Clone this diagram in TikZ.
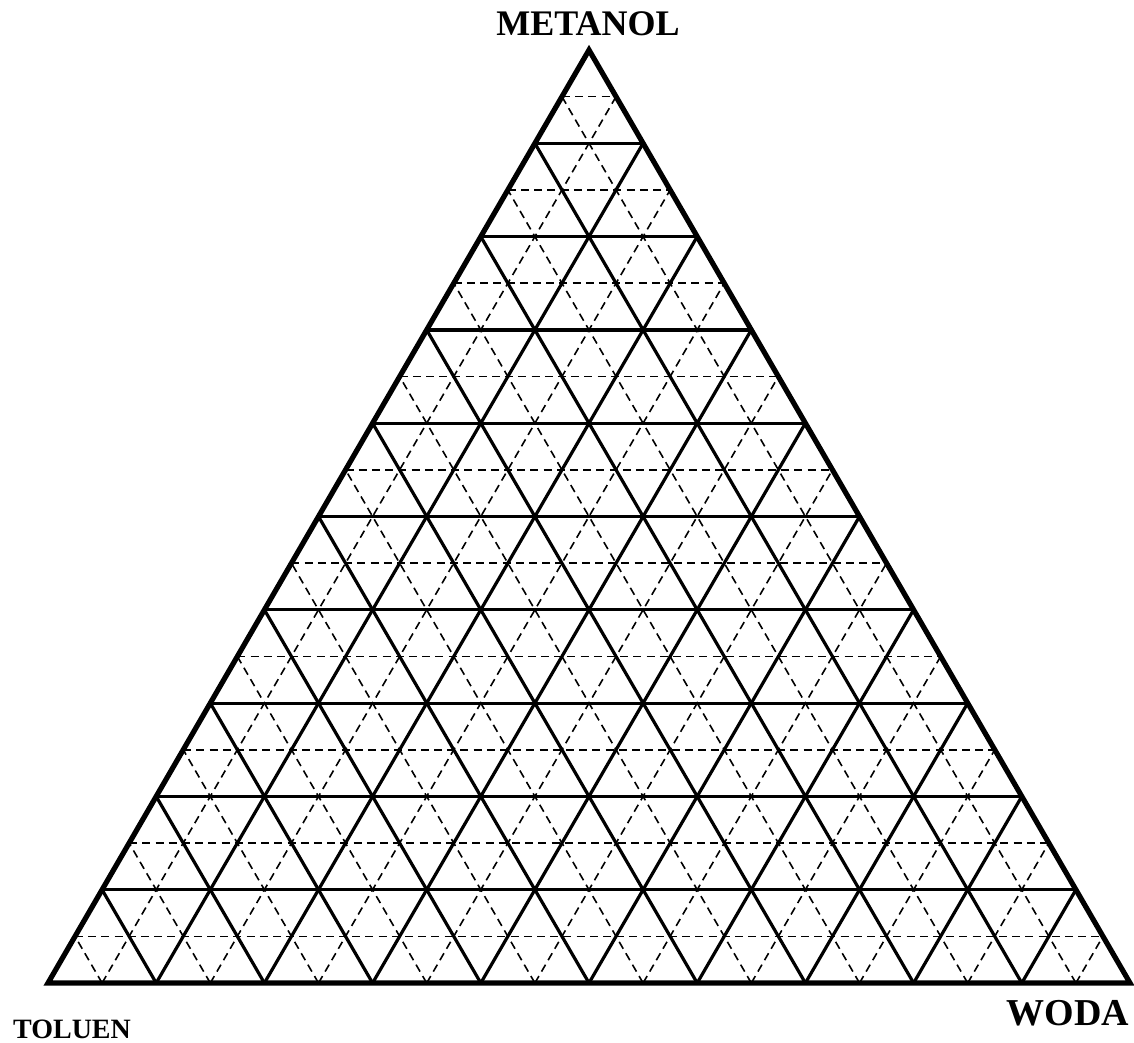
\documentclass[tikz,border=0pt]{standalone}
\usepackage{fontspec}
\setmainfont{Liberation Serif}
\usepackage{tikz}
\usetikzlibrary{calc}
\tikzset{
  frame line/.style={line width=2.6pt, line join=miter, draw=black},
  major line/.style={line width=1.6pt, draw=black},
  minor line/.style={line width=0.8pt, draw=black, dash pattern=on 4pt off 2.6pt},
  corner label/.style={font=\bfseries, inner sep=0pt, text=black}
}

\begin{document}
\begin{tikzpicture}[x=0.5pt, y=-0.5pt]
  \useasboundingbox (0,0) rectangle (1134,1043);
  \coordinate (tol) at (48,983);
  \coordinate (woda) at (1130,983);
  \coordinate (met) at (589,50);
  % dashed half-steps first, then solid tenths over them
  \foreach \k in {1,3,...,19} {
    \draw[minor line] ($(tol)!{\k/20}!(met)$) -- ($(woda)!{\k/20}!(met)$);
    \draw[minor line] ($(tol)!{\k/20}!(woda)$) -- ($(tol)!{\k/20}!(met)$);
    \draw[minor line] ($(tol)!{\k/20}!(woda)$) -- ($(met)!{\k/20}!(woda)$);
  }
  \foreach \k in {2,4,...,18} {
    \draw[major line] ($(tol)!{\k/20}!(met)$) -- ($(woda)!{\k/20}!(met)$);
    \draw[major line] ($(tol)!{\k/20}!(woda)$) -- ($(tol)!{\k/20}!(met)$);
    \draw[major line] ($(tol)!{\k/20}!(woda)$) -- ($(met)!{\k/20}!(woda)$);
  }
  \draw[frame line] (tol) -- (woda) -- (met) -- cycle;
  \node[corner label, font=\bfseries\fontsize{18}{20}\selectfont] (metlabel) at (588,24) {METANOL};
  \node[corner label, font=\bfseries\fontsize{14}{16}\selectfont] (tollabel) at (72,1029) {TOLUEN};
  \node[corner label, font=\bfseries\fontsize{19}{21}\selectfont] (wodalabel) at (1068,1013) {WODA};
\end{tikzpicture}
\end{document}
